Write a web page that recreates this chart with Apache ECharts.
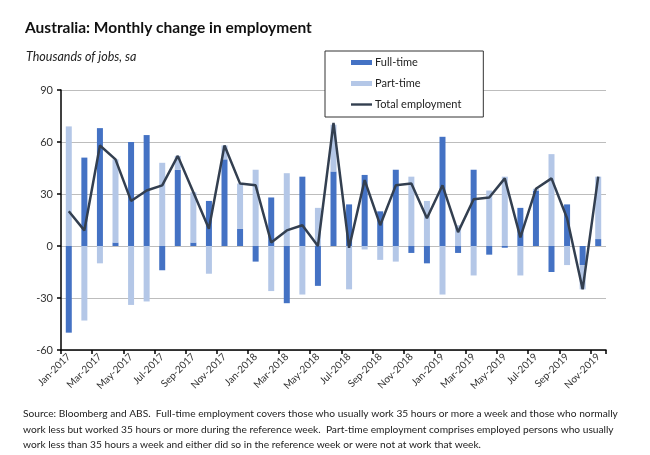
<!DOCTYPE html>
<html>
<head>
<meta charset="utf-8">
<title>Australia: Monthly change in employment</title>
<script src="https://cdn.jsdelivr.net/npm/echarts@6/dist/echarts.min.js"></script>
<style>
	html, body { margin: 0; padding: 0; background: #fff; }
	#main { width: 650px; height: 455px; }
</style>
</head>
<body>
<div id="main"></div>
<script>
// monthly change, thousands of jobs (sa)
var months = ['Jan-2017', 'Feb-2017', 'Mar-2017', 'Apr-2017', 'May-2017', 'Jun-2017', 'Jul-2017', 'Aug-2017', 'Sep-2017', 'Oct-2017', 'Nov-2017', 'Dec-2017',
	'Jan-2018', 'Feb-2018', 'Mar-2018', 'Apr-2018', 'May-2018', 'Jun-2018', 'Jul-2018', 'Aug-2018', 'Sep-2018', 'Oct-2018', 'Nov-2018', 'Dec-2018',
	'Jan-2019', 'Feb-2019', 'Mar-2019', 'Apr-2019', 'May-2019', 'Jun-2019', 'Jul-2019', 'Aug-2019', 'Sep-2019', 'Oct-2019', 'Nov-2019'];
var fullTime = [-50, 51, 68, 2, 60, 64, -14, 44, 2, 26, 50, 10,
	-9, 28, -33, 40, -23, 43, 24, 41, 20, 44, -4, -10,
	63, -4, 44, -5, -1, 22, 32, -15, 24, -11, 4];
var partTime = [69, -43, -10, 48, -34, -32, 48, 8, 29, -16, 8, 26,
	44, -26, 42, -28, 22, 27, -25, -2, -8, -9, 40, 26,
	-28, 12, -17, 32, 40, -17, 1, 53, -11, -14, 36];
var totalEmp = [20, 9, 58, 50, 26, 32, 35, 52, 31, 10, 58, 36,
	35, 2, 9, 12, 0, 71, -1, 38, 12, 35, 36, 16,
	35, 8, 27, 28, 39, 5, 33, 39, 16, -25, 40];
var yTicks = [-60, 90, 30]; // min, max, step

var noteLines = [
	'Source: Bloomberg and ABS.  Full-time employment covers those who usually work 35 hours or more a week and those who normally',
	'work less but worked 35 hours or more during the reference week.  Part-time employment comprises employed persons who usually',
	'work less than 35 hours a week and either did so in the reference week or were not at work that week.'
];

var font = 'Lato, "Liberation Sans", sans-serif';
var myChart = echarts.init(document.getElementById('main'));

var notes = [];
for (var i = 0; i < noteLines.length; i++) {
	notes.push({
		type: 'text',
		left: 23,
		top: 409 + i * 15.5,
		style: {
			text: noteLines[i],
			font: '10.2px ' + font,
			fill: '#222'
		}
	});
}

myChart.setOption({
	animation: false,
	title: [{
		text: 'Australia: Monthly change in employment',
		left: 20,
		top: 15,
		textStyle: { fontFamily: font, fontSize: 15.5, fontWeight: 'bold', color: '#111' }
	}, {
		text: 'Thousands of jobs, sa',
		left: 21,
		top: 45,
		textStyle: { fontFamily: font, fontSize: 12.5, fontStyle: 'italic', fontWeight: 'normal', color: '#222' }
	}],
	legend: {
		orient: 'vertical',
		left: 325,
		top: 51,
		padding: [6, 22, 7, 26],
		itemGap: 10,
		itemWidth: 21,
		itemHeight: 5,
		backgroundColor: '#fff',
		borderColor: '#333',
		borderWidth: 1,
		z: 10,
		textStyle: { fontFamily: font, fontSize: 11, color: '#222', padding: [0, 0, 0, -2] },
		data: [
			{ name: 'Full-time', icon: 'rect' },
			{ name: 'Part-time', icon: 'rect' },
			{ name: 'Total employment', icon: 'path://M0,0L21,0L21,2.4L0,2.4Z' }
		]
	},
	grid: {
		left: 61,
		right: 44,
		top: 90,
		bottom: 105
	},
	xAxis: [{
		type: 'category',
		data: months,
		position: 'bottom',
		axisLine: { show: false },
		axisTick: { show: false },
		axisLabel: {
			interval: 1,
			rotate: 45,
			margin: 5,
			fontFamily: font,
			fontSize: 10,
			color: '#333'
		}
	}, {
		type: 'category',
		data: months,
		position: 'bottom',
		axisLine: { onZero: true, lineStyle: { color: '#000', width: 1.5 } },
		axisTick: { show: true, interval: 1, length: 4, lineStyle: { color: '#000', width: 1.5 } },
		axisLabel: { show: false }
	}],
	yAxis: {
		type: 'value',
		min: yTicks[0],
		max: yTicks[1],
		interval: yTicks[2],
		axisLine: { show: true, lineStyle: { color: '#000', width: 1.5 } },
		axisTick: { show: true, length: 4, lineStyle: { color: '#000', width: 1.5 } },
		axisLabel: { margin: 8, fontFamily: font, fontSize: 11, color: '#333' },
		splitLine: { lineStyle: { color: '#bdbdbd', width: 1.2 } }
	},
	series: [{
		name: 'Full-time',
		type: 'bar',
		stack: 'emp',
		barWidth: 6,
		itemStyle: { color: '#4472c4' },
		data: fullTime
	}, {
		name: 'Part-time',
		type: 'bar',
		stack: 'emp',
		barWidth: 6,
		itemStyle: { color: '#b4c7e7' },
		data: partTime
	}, {
		name: 'Total employment',
		type: 'line',
		symbol: 'none',
		z: 5,
		lineStyle: { color: '#333f50', width: 2.5 },
		itemStyle: { color: '#333f50' },
		data: totalEmp
	}],
	graphic: notes
});
</script>
</body>
</html>
